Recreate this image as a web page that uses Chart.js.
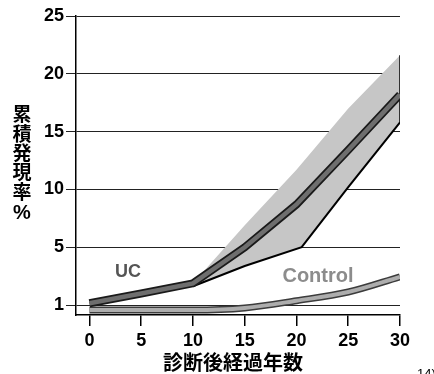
<!DOCTYPE html>
<html>
<head>
<meta charset="utf-8">
<script src="https://cdn.jsdelivr.net/npm/chart.js@4/dist/chart.umd.min.js"></script>
<style>
  body { margin: 0; background: #fff; }
  canvas { display: block; }
</style>
</head>
<body>
<canvas id="chart" width="434" height="374"></canvas>
<script>
// years after diagnosis
const years = [0, 5, 10, 15, 20, 25, 30];
const ucMean = [1.12, 1.8, 2.5, 5.0, 8.7, 13.4, 18.2];
const control = [0.66, 0.66, 0.66, 0.8, 1.3, 1.9, 2.95];

// confidence band of UC
const upperYears = [10, 15, 20, 25, 30];
const ucUpper = [2.5, 6.9, 11.7, 17.0, 21.6];
const lowerYears = [10, 15, 20.5, 25, 30];
const ucLower = [2.3, 3.7, 5.0, 10.2, 15.8];

const xTicks = [0, 5, 10, 15, 20, 25, 30];
const yTicks = [1, 5, 10, 15, 20, 25];
const yTitle = ['累', '積', '発', '現', '率', '%'];
const xTitle = '診断後経過年数';

// axis in the figure: the 1..5 step is drawn as wide as a 5-unit step
class BrokenScale extends Chart.LinearScale {
    _u(v) { return v >= 5 ? v : 5 - (5 - v) * 1.25; }
    getPixelForValue(value) {
        if (value === null || value === undefined || isNaN(value)) return NaN;
        const u0 = this._u(this.min), u1 = this._u(this.max);
        return this.getPixelForDecimal((this._u(value) - u0) / (u1 - u0));
    }
    getValueForPixel(pixel) {
        const u0 = this._u(this.min), u1 = this._u(this.max);
        const u = u0 + this.getDecimalForPixel(pixel) * (u1 - u0);
        return u >= 5 ? u : 5 - (5 - u) / 1.25;
    }
}
BrokenScale.id = 'broken';
BrokenScale.defaults = Chart.LinearScale.defaults;
Chart.register(BrokenScale);

const pts = (xs, ys) => xs.map((x, i) => ({ x: x, y: ys[i] }));

const textPlugin = {
    id: 'texts',
    afterDraw(chart) {
        const ctx = chart.ctx;
        ctx.save();
        ctx.textAlign = 'center';
        ctx.textBaseline = 'middle';
        ctx.fillStyle = '#000';
        ctx.font = 'bold 19px "Noto Sans CJK JP", sans-serif';
        yTitle.forEach((c, i) => {
            const y = i < 5 ? 114 + i * 19.4 : 213;
            if (c === '%') ctx.font = 'bold 20px "Liberation Sans", Arial, sans-serif';
            ctx.fillText(c, 22, y);
        });
        ctx.font = 'bold 20px "Noto Sans CJK JP", sans-serif';
        ctx.fillText(xTitle, 233, 362);

        ctx.font = 'bold 18px "Liberation Sans", Arial, sans-serif';
        ctx.fillStyle = '#555';
        ctx.fillText('UC', 128, 272);
        ctx.font = 'bold 20px "Liberation Sans", Arial, sans-serif';
        ctx.fillStyle = '#8c8c8c';
        ctx.fillText('Control', 318, 276);

        ctx.font = '13px "Liberation Sans", Arial, sans-serif';
        ctx.fillStyle = '#000';
        ctx.textAlign = 'left';
        ctx.textBaseline = 'top';
        ctx.fillText('14)', 417, 368);
        ctx.restore();
    }
};

const line = (data, color, width, extra) => Object.assign({
    data: data,
    borderColor: color,
    borderWidth: width,
    pointRadius: 0,
    fill: false,
    tension: 0
}, extra || {});

new Chart(document.getElementById('chart'), {
    type: 'line',
    data: {
        datasets: [
            line(pts(years, ucMean), '#6e6e6e', 4.5),
            line(pts(years, ucMean), '#1a1a1a', 8),
            line(pts(lowerYears, ucLower), '#000', 2),
            line(pts([30, 30], [ucUpper[4], ucLower[4]]), '#000', 1.5),
            line(pts(upperYears, ucUpper), 'rgba(0,0,0,0)', 0, { fill: 2, backgroundColor: '#c6c6c6' }),
            line(pts(years, control), '#adadad', 4, { cubicInterpolationMode: 'monotone' }),
            line(pts(years, control), '#3c3c3c', 7, { cubicInterpolationMode: 'monotone' })
        ]
    },
    options: {
        responsive: false,
        animation: false,
        layout: { padding: { left: 0, right: 34, top: 16, bottom: 0 } },
        plugins: {
            legend: { display: false },
            tooltip: { enabled: false }
        },
        scales: {
            x: {
                type: 'linear',
                min: -1.3,
                max: 30,
                bounds: 'data',
                afterBuildTicks: s => { s.ticks = xTicks.map(v => ({ value: v })); },
                afterFit: s => { s.height = 59; },
                grid: { drawOnChartArea: false, drawTicks: true, tickLength: 11, color: '#000', lineWidth: 1.5 },
                border: { display: true, color: '#000', width: 1.5 },
                ticks: {
                    color: '#000',
                    padding: 4,
                    maxRotation: 0,
                    font: { family: '"Liberation Sans", Arial, sans-serif', size: 18, weight: 'bold' }
                }
            },
            y: {
                type: 'broken',
                min: 0.31,
                max: 25,
                bounds: 'data',
                afterBuildTicks: s => { s.ticks = yTicks.map(v => ({ value: v })); },
                afterFit: s => { s.width = 76; },
                grid: { color: '#222', lineWidth: 1, tickLength: 10 },
                border: { display: true, color: '#000', width: 1.5 },
                ticks: {
                    color: '#000',
                    padding: 2,
                    font: { family: '"Liberation Sans", Arial, sans-serif', size: 18, weight: 'bold' }
                }
            }
        }
    },
    plugins: [textPlugin]
});
</script>
</body>
</html>
